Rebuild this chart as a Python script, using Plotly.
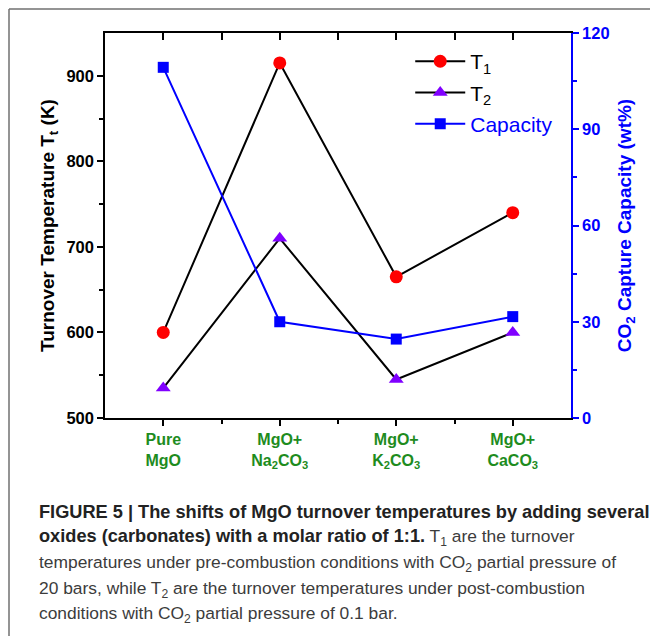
import plotly.graph_objects as go

categories = ["Pure<br>MgO", "MgO+<br>Na<sub>2</sub>CO<sub>3</sub>", "MgO+<br>K<sub>2</sub>CO<sub>3</sub>", "MgO+<br>CaCO<sub>3</sub>"]
t1 = [600, 915, 665, 740]
t2 = [535, 710, 545, 600]
capacity = [109.3, 30.0, 24.6, 31.6]
left_ticks = [500, 600, 700, 800, 900]
right_ticks = [0, 30, 60, 90, 120]

xpos = list(range(len(categories)))
FONT = "Liberation Sans, Arial, sans-serif"

fig = go.Figure()
fig.add_trace(go.Scatter(x=xpos, y=t1, name="T<sub>1</sub>", mode="lines+markers",
                         line=dict(color="black", width=2),
                         marker=dict(symbol="circle", size=13, color="#ff0000"),
                         legendgroup="a"))
fig.add_trace(go.Scatter(x=xpos, y=t2, name="T<sub>2</sub>", mode="lines+markers",
                         line=dict(color="black", width=2),
                         marker=dict(symbol="triangle-up", size=13, color="#8000ff"),
                         legendgroup="b"))
fig.add_trace(go.Scatter(x=xpos, y=capacity, name="<span style='color:#0000ff'>Capacity</span>",
                         mode="lines+markers", yaxis="y2",
                         line=dict(color="#0000ff", width=2),
                         marker=dict(symbol="square", size=11, color="#0000ff"),
                         legendgroup="c"))
# helper trace for the top axis
fig.add_trace(go.Scatter(x=[0], y=[500], xaxis="x2", mode="markers", marker=dict(opacity=0),
                         showlegend=False, hoverinfo="skip"))

minor_x = [i + 0.5 for i in xpos[:-1]]

fig.update_layout(
    width=650, height=636,
    margin=dict(l=105, r=79, t=33, b=218),
    paper_bgcolor="white", plot_bgcolor="white",
    font=dict(family=FONT, color="black"),
    showlegend=True,
    legend=dict(x=0.655, y=0.979, xanchor="left", yanchor="top",
                bgcolor="rgba(0,0,0,0)", font=dict(size=21, color="black"),
                itemwidth=50, tracegroupgap=1),
    xaxis=dict(range=[-0.5, 3.5], tickvals=xpos, ticktext=categories,
               tickfont=dict(size=16, color="#1e8c1e", family=FONT, weight="bold"),
               showline=True, linecolor="black", linewidth=1.5,
               ticks="outside", ticklen=6, tickwidth=1.5, tickcolor="black",
               minor=dict(tickvals=minor_x, ticks="outside", ticklen=4, tickwidth=1.5, tickcolor="black"),
               showgrid=False, zeroline=False),
    xaxis2=dict(range=[-0.5, 3.5], overlaying="x", side="top", anchor="y",
                tickvals=sorted(xpos + minor_x), showticklabels=False,
                showline=True, linecolor="black", linewidth=1.5,
                ticks="inside", ticklen=7, tickwidth=1.5, tickcolor="black",
                showgrid=False, zeroline=False),
    yaxis=dict(range=[500, 950], tickvals=left_ticks,
               tickfont=dict(size=16.5, family=FONT, weight="bold"),
               showline=True, linecolor="black", linewidth=1.5,
               ticks="outside", ticklen=6, tickwidth=1.5, tickcolor="black",
               minor=dict(tickvals=[550, 650, 750, 850], ticks="outside", ticklen=4, tickwidth=1.5, tickcolor="black"),
               showgrid=False, zeroline=False,
               title=dict(text="Turnover Temperature T<sub>t</sub> (K)",
                          font=dict(size=19, family=FONT, weight="bold"), standoff=7)),
    yaxis2=dict(range=[0, 120], tickvals=right_ticks, overlaying="y", side="right", anchor="x",
                tickfont=dict(size=16.5, color="#0000ff", family=FONT, weight="bold"),
                showline=True, linecolor="#0000ff", linewidth=1.5,
                ticks="outside", ticklen=6, tickwidth=1.5, tickcolor="#0000ff",
                minor=dict(tickvals=[15, 45, 75, 105], ticks="outside", ticklen=4, tickwidth=1.5, tickcolor="#0000ff"),
                showgrid=False, zeroline=False,
                title=dict(text="CO<sub>2</sub> Capture Capacity (wt%)",
                           font=dict(size=19, color="#0000ff", family=FONT, weight="bold"), standoff=9)),
)

# frame around the figure (left and top edges)
fig.add_shape(type="line", xref="paper", yref="paper", x0=(9 - 105) / 466, x1=(9 - 105) / 466,
              y0=(418 - 9) / 385, y1=(418 - 640) / 385, line=dict(color="#707070", width=1.5))
fig.add_shape(type="line", xref="paper", yref="paper", x0=(9 - 105) / 466, x1=(652 - 105) / 466,
              y0=(418 - 9) / 385, y1=(418 - 9) / 385, line=dict(color="#707070", width=1.5))

B = "<span style='font-size:18.2px;color:#222222'><b>{}</b></span>"
caption_lines = [
    B.format("FIGURE 5 | The shifts of MgO turnover temperatures by adding several"),
    B.format("oxides (carbonates) with a molar ratio of 1:1.") + " T<sub>1</sub> are the turnover",
    "temperatures under pre-combustion conditions with CO<sub>2</sub> partial pressure of",
    "20 bars, while T<sub>2</sub> are the turnover temperatures under post-combustion",
    "conditions with CO<sub>2</sub> partial pressure of 0.1 bar.",
]
caption_y = [512, 537, 563, 589, 614]
for txt, yc in zip(caption_lines, caption_y):
    fig.add_annotation(text=txt, xref="paper", yref="paper", x=(37 - 105) / 466, y=(418 - yc) / 385,
                       xanchor="left", yanchor="middle", showarrow=False, align="left",
                       font=dict(size=17.4, family=FONT, color="#3c3c3c"))

fig.write_html("out.html")
